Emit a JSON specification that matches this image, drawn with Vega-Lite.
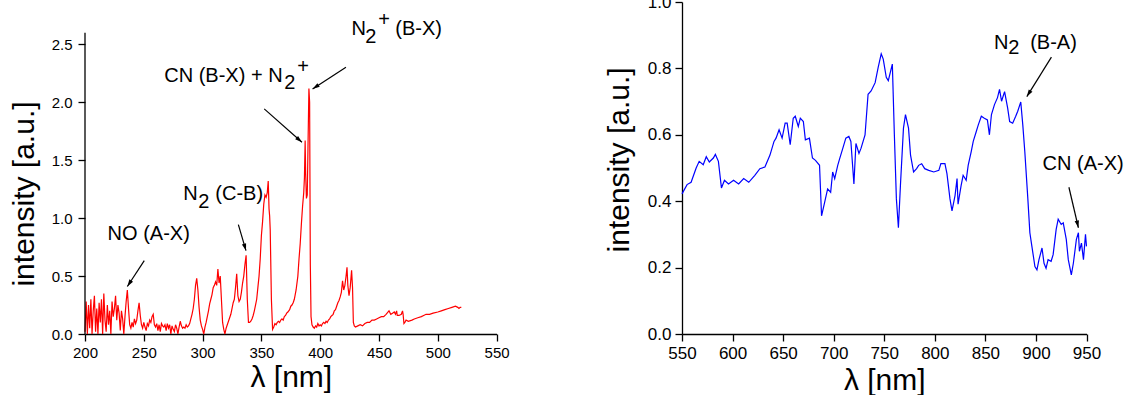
{
 "$schema": "https://vega.github.io/schema/vega-lite/v6.json",
 "background": "white",
 "padding": {"left": 9, "top": -7, "right": 0, "bottom": 0},
 "config": {
  "font": "Liberation Sans",
  "view": {"stroke": null},
  "axis": {"grid": false, "domainColor": "#000", "domainWidth": 1.3, "tickColor": "#000", "tickWidth": 1.3, "labelColor": "#000", "titleColor": "#000", "titleFontWeight": "normal", "titleFontSize": 30, "labelFlush": false, "labelOverlap": false, "labelFont": "Liberation Sans", "titleFont": "Liberation Sans"}
 },
 "datasets": {
  "red": [
   {"wl":200,"v":0.02},{"wl":201,"v":0.28},{"wl":202,"v":0.0},{"wl":203,"v":0.25},{"wl":204,"v":0.05},{"wl":205,"v":0.3},{"wl":206,"v":0.0},{"wl":207,"v":0.2},{"wl":208,"v":0.33},{"wl":209,"v":0.02},
   {"wl":210,"v":0.22},{"wl":211,"v":0.0},{"wl":212,"v":0.27},{"wl":213,"v":0.1},{"wl":214,"v":0.3},{"wl":215,"v":0.0},{"wl":216,"v":0.35},{"wl":217,"v":0.12},{"wl":218,"v":0.02},{"wl":219,"v":0.25},
   {"wl":220,"v":0.08},{"wl":221,"v":0.2},{"wl":222,"v":0.0},{"wl":223,"v":0.28},{"wl":224,"v":0.15},{"wl":225,"v":0.22},{"wl":226,"v":0.33},{"wl":227,"v":0.12},{"wl":228,"v":0.25},{"wl":229,"v":0.18},
   {"wl":230,"v":0.03},{"wl":231,"v":0.2},{"wl":232,"v":0.13},{"wl":233,"v":0.0},{"wl":234,"v":0.15},{"wl":235,"v":0.28},{"wl":236,"v":0.38},{"wl":237,"v":0.22},{"wl":238,"v":0.08},{"wl":239,"v":0.05},
   {"wl":240,"v":0.1},{"wl":241,"v":0.06},{"wl":242,"v":0.13},{"wl":243,"v":0.09},{"wl":244,"v":0.12},{"wl":245,"v":0.2},{"wl":246,"v":0.27},{"wl":247,"v":0.16},{"wl":248,"v":0.08},{"wl":249,"v":0.05},
   {"wl":250,"v":0.1},{"wl":251,"v":0.06},{"wl":252,"v":0.03},{"wl":253,"v":0.09},{"wl":254,"v":0.07},{"wl":255,"v":0.12},{"wl":256,"v":0.1},{"wl":257,"v":0.15},{"wl":258,"v":0.17},{"wl":259,"v":0.08},
   {"wl":260,"v":0.06},{"wl":261,"v":0.09},{"wl":262,"v":0.03},{"wl":263,"v":0.08},{"wl":264,"v":0.02},{"wl":265,"v":0.09},{"wl":266,"v":0.07},{"wl":267,"v":0.06},{"wl":268,"v":0.08},{"wl":269,"v":0.03},
   {"wl":270,"v":0.09},{"wl":271,"v":0.05},{"wl":272,"v":0.08},{"wl":273,"v":0.0},{"wl":274,"v":0.07},{"wl":275,"v":0.04},{"wl":276,"v":0.02},{"wl":277,"v":0.08},{"wl":278,"v":0.05},{"wl":279,"v":0.0},
   {"wl":280,"v":0.06},{"wl":281,"v":0.11},{"wl":282,"v":0.07},{"wl":283,"v":0.05},{"wl":284,"v":0.06},{"wl":285,"v":0.05},{"wl":286,"v":0.08},{"wl":287,"v":0.06},{"wl":288,"v":0.07},{"wl":289,"v":0.09},
   {"wl":290,"v":0.13},{"wl":291,"v":0.17},{"wl":292,"v":0.22},{"wl":293,"v":0.3},{"wl":294,"v":0.42},{"wl":295,"v":0.48},{"wl":296,"v":0.38},{"wl":297,"v":0.23},{"wl":298,"v":0.12},{"wl":299,"v":0.07},
   {"wl":300,"v":0.04},{"wl":301,"v":0.0},{"wl":302,"v":0.06},{"wl":303,"v":0.1},{"wl":304,"v":0.15},{"wl":305,"v":0.2},{"wl":306,"v":0.26},{"wl":307,"v":0.3},{"wl":308,"v":0.34},{"wl":309,"v":0.4},
   {"wl":310,"v":0.42},{"wl":311,"v":0.45},{"wl":312,"v":0.42},{"wl":313,"v":0.56},{"wl":314,"v":0.44},{"wl":315,"v":0.5},{"wl":316,"v":0.3},{"wl":317,"v":0.1},{"wl":318,"v":0.04},{"wl":319,"v":0.0},
   {"wl":320,"v":0.05},{"wl":321,"v":0.08},{"wl":322,"v":0.11},{"wl":323,"v":0.14},{"wl":324,"v":0.17},{"wl":325,"v":0.22},{"wl":326,"v":0.27},{"wl":327,"v":0.3},{"wl":328,"v":0.4},{"wl":329,"v":0.52},
   {"wl":330,"v":0.33},{"wl":331,"v":0.28},{"wl":332,"v":0.3},{"wl":333,"v":0.36},{"wl":334,"v":0.44},{"wl":335,"v":0.5},{"wl":336,"v":0.6},{"wl":337,"v":0.68},{"wl":338,"v":0.3},{"wl":339,"v":0.1},
   {"wl":340,"v":0.1},{"wl":341,"v":0.11},{"wl":342,"v":0.13},{"wl":343,"v":0.16},{"wl":344,"v":0.2},{"wl":345,"v":0.25},{"wl":346,"v":0.3},{"wl":347,"v":0.4},{"wl":348,"v":0.5},{"wl":349,"v":0.65},
   {"wl":350,"v":0.85},{"wl":351,"v":0.97},{"wl":352,"v":1.12},{"wl":353,"v":1.2},{"wl":354,"v":1.18},{"wl":355,"v":1.22},{"wl":355.8,"v":1.32},{"wl":356.5,"v":1.08},{"wl":357,"v":1.02},{"wl":357.5,"v":0.9},
   {"wl":358.5,"v":0.3},{"wl":359.5,"v":0.04},{"wl":360.5,"v":0.06},{"wl":361.5,"v":0.09},{"wl":362.5,"v":0.08},{"wl":363.5,"v":0.1},{"wl":364.5,"v":0.11},{"wl":365.5,"v":0.1},{"wl":366.5,"v":0.12},{"wl":367.5,"v":0.13},
   {"wl":368.5,"v":0.12},{"wl":369.5,"v":0.15},{"wl":370.5,"v":0.16},{"wl":371.5,"v":0.18},{"wl":372.5,"v":0.19},{"wl":374,"v":0.21},{"wl":375,"v":0.24},{"wl":376,"v":0.25},{"wl":377,"v":0.27},{"wl":378,"v":0.3},
   {"wl":379.5,"v":0.38},{"wl":381,"v":0.5},{"wl":382,"v":0.65},{"wl":383,"v":0.78},{"wl":384,"v":0.95},{"wl":385,"v":1.1},{"wl":386,"v":1.22},{"wl":386.6,"v":1.35},{"wl":387.2,"v":1.67},{"wl":387.6,"v":1.4},
   {"wl":388.3,"v":1.17},{"wl":389,"v":1.2},{"wl":389.6,"v":1.6},{"wl":390.4,"v":2.12},{"wl":391,"v":2.0},{"wl":391.6,"v":0.6},{"wl":392.2,"v":0.15},{"wl":393,"v":0.08},{"wl":394,"v":0.06},{"wl":395,"v":0.05},
   {"wl":396,"v":0.07},{"wl":397,"v":0.06},{"wl":398,"v":0.09},{"wl":399,"v":0.07},{"wl":400,"v":0.08},{"wl":401,"v":0.07},{"wl":402,"v":0.09},{"wl":403,"v":0.1},{"wl":404,"v":0.09},{"wl":405,"v":0.11},
   {"wl":406,"v":0.1},{"wl":407,"v":0.12},{"wl":408,"v":0.13},{"wl":409,"v":0.15},{"wl":410,"v":0.16},{"wl":411,"v":0.17},{"wl":412,"v":0.2},{"wl":413,"v":0.21},{"wl":414,"v":0.24},{"wl":415,"v":0.27},
   {"wl":416,"v":0.29},{"wl":417,"v":0.32},{"wl":418,"v":0.36},{"wl":419,"v":0.46},{"wl":420,"v":0.38},{"wl":421,"v":0.42},{"wl":422,"v":0.5},{"wl":422.8,"v":0.575},{"wl":423.5,"v":0.42},{"wl":424.5,"v":0.33},
   {"wl":425.5,"v":0.4},{"wl":426.7,"v":0.55},{"wl":427.5,"v":0.4},{"wl":428.2,"v":0.1},{"wl":429,"v":0.07},{"wl":430,"v":0.06},{"wl":432,"v":0.07},{"wl":434,"v":0.08},{"wl":436,"v":0.07},{"wl":438,"v":0.09},
   {"wl":440,"v":0.1},{"wl":442,"v":0.1},{"wl":444,"v":0.12},{"wl":446,"v":0.12},{"wl":448,"v":0.13},{"wl":450,"v":0.14},{"wl":452,"v":0.15},{"wl":454,"v":0.15},{"wl":456,"v":0.17},{"wl":458.5,"v":0.2},
   {"wl":460,"v":0.17},{"wl":461.5,"v":0.18},{"wl":463,"v":0.19},{"wl":464,"v":0.17},{"wl":465,"v":0.2},{"wl":465.5,"v":0.16},{"wl":467,"v":0.16},{"wl":469,"v":0.17},{"wl":470,"v":0.2},{"wl":470.5,"v":0.17},
   {"wl":471.2,"v":0.09},{"wl":472,"v":0.1},{"wl":473,"v":0.12},{"wl":475,"v":0.11},{"wl":478,"v":0.12},{"wl":480,"v":0.13},{"wl":483,"v":0.14},{"wl":486,"v":0.15},{"wl":488,"v":0.16},{"wl":490,"v":0.17},
   {"wl":493,"v":0.17},{"wl":496,"v":0.18},{"wl":500,"v":0.19},{"wl":503,"v":0.2},{"wl":506,"v":0.21},{"wl":509,"v":0.22},{"wl":512,"v":0.23},{"wl":515,"v":0.24},{"wl":517,"v":0.23},{"wl":518,"v":0.22},
   {"wl":519,"v":0.23},{"wl":520,"v":0.23}
  ],
  "blue": [
   {"wl":550,"v":0.422},{"wl":555,"v":0.45},{"wl":559,"v":0.457},{"wl":564,"v":0.5},{"wl":567,"v":0.52},{"wl":571,"v":0.51},{"wl":574,"v":0.534},{"wl":577,"v":0.518},{"wl":581,"v":0.53},{"wl":583,"v":0.541},
   {"wl":586,"v":0.52},{"wl":589,"v":0.44},{"wl":592,"v":0.463},{"wl":596,"v":0.452},{"wl":601,"v":0.463},{"wl":606,"v":0.452},{"wl":611,"v":0.468},{"wl":616,"v":0.457},{"wl":622,"v":0.478},{"wl":627,"v":0.498},
   {"wl":632,"v":0.503},{"wl":637,"v":0.539},{"wl":641,"v":0.58},{"wl":643,"v":0.59},{"wl":646,"v":0.615},{"wl":649,"v":0.59},{"wl":652,"v":0.635},{"wl":654,"v":0.635},{"wl":657,"v":0.57},{"wl":660,"v":0.65},
   {"wl":662,"v":0.656},{"wl":665,"v":0.625},{"wl":667,"v":0.65},{"wl":670,"v":0.64},{"wl":672,"v":0.585},{"wl":676,"v":0.59},{"wl":679,"v":0.53},{"wl":682,"v":0.523},{"wl":686,"v":0.508},{"wl":688,"v":0.356},
   {"wl":691,"v":0.396},{"wl":694,"v":0.437},{"wl":697,"v":0.427},{"wl":699,"v":0.488},{"wl":701,"v":0.468},{"wl":704,"v":0.508},{"wl":706,"v":0.529},{"wl":709,"v":0.559},{"wl":712,"v":0.59},{"wl":715,"v":0.595},
   {"wl":717,"v":0.58},{"wl":720,"v":0.452},{"wl":722,"v":0.574},{"wl":725,"v":0.544},{"wl":727,"v":0.559},{"wl":731,"v":0.6},{"wl":734,"v":0.722},{"wl":737,"v":0.732},{"wl":741,"v":0.757},{"wl":744,"v":0.803},
   {"wl":747,"v":0.844},{"wl":749,"v":0.828},{"wl":752,"v":0.773},{"wl":754,"v":0.763},{"wl":756,"v":0.788},{"wl":758,"v":0.813},{"wl":760,"v":0.6},{"wl":762,"v":0.407},{"wl":764,"v":0.32},{"wl":766,"v":0.447},
   {"wl":769,"v":0.62},{"wl":771,"v":0.661},{"wl":774,"v":0.62},{"wl":776,"v":0.539},{"wl":779,"v":0.488},{"wl":782,"v":0.498},{"wl":784,"v":0.508},{"wl":787,"v":0.513},{"wl":790,"v":0.498},{"wl":794,"v":0.493},
   {"wl":799,"v":0.488},{"wl":804,"v":0.493},{"wl":806,"v":0.513},{"wl":810,"v":0.513},{"wl":812,"v":0.483},{"wl":815,"v":0.407},{"wl":817,"v":0.371},{"wl":820,"v":0.417},{"wl":822,"v":0.468},{"wl":823,"v":0.391},
   {"wl":826,"v":0.447},{"wl":828,"v":0.478},{"wl":831,"v":0.463},{"wl":833,"v":0.508},{"wl":836,"v":0.549},{"wl":838,"v":0.58},{"wl":841,"v":0.61},{"wl":843,"v":0.63},{"wl":846,"v":0.656},{"wl":849,"v":0.65},
   {"wl":852,"v":0.645},{"wl":854,"v":0.6},{"wl":856,"v":0.661},{"wl":859,"v":0.691},{"wl":862,"v":0.712},{"wl":864,"v":0.737},{"wl":866,"v":0.701},{"wl":869,"v":0.73},{"wl":872,"v":0.681},{"wl":874,"v":0.64},
   {"wl":877,"v":0.635},{"wl":880,"v":0.656},{"wl":882,"v":0.671},{"wl":885,"v":0.699},{"wl":887,"v":0.63},{"wl":889,"v":0.549},{"wl":892,"v":0.407},{"wl":894,"v":0.305},{"wl":896,"v":0.264},{"wl":899,"v":0.203},
   {"wl":901,"v":0.193},{"wl":903,"v":0.224},{"wl":906,"v":0.259},{"wl":908,"v":0.213},{"wl":910,"v":0.198},{"wl":912,"v":0.224},{"wl":915,"v":0.219},{"wl":917,"v":0.239},{"wl":920,"v":0.315},{"wl":922,"v":0.346},
   {"wl":925,"v":0.33},{"wl":927,"v":0.335},{"wl":930,"v":0.285},{"wl":932,"v":0.224},{"wl":935,"v":0.178},{"wl":937,"v":0.213},{"wl":940,"v":0.285},{"wl":942,"v":0.305},{"wl":943,"v":0.249},{"wl":945,"v":0.274},
   {"wl":947,"v":0.224},{"wl":949,"v":0.3},{"wl":950,"v":0.264}
  ],
  "txtL": [
   {"x":219.2,"y":0.812,"t":"NO (A-X)"},
   {"x":283.6,"y":1.16,"t":"N"},{"x":296.3,"y":1.091,"t":"2"},{"x":310.8,"y":1.16,"t":"(C-B)"},
   {"x":267.4,"y":2.179,"t":"CN (B-X) + N"},{"x":369.5,"y":2.116,"t":"2"},{"x":380.4,"y":2.254,"t":"+"},
   {"x":426.7,"y":2.582,"t":"N"},{"x":438.4,"y":2.513,"t":"2"},{"x":449.4,"y":2.656,"t":"+"},{"x":463.9,"y":2.582,"t":"(B-X)"}
  ],
  "txtR": [
   {"x":858.6,"y":0.857,"t":"N"},{"x":872.6,"y":0.844,"t":"2"},{"x":894.3,"y":0.857,"t":"(B-A)"},
   {"x":906.6,"y":0.495,"t":"CN (A-X)"}
  ],
  "arrL": [
   {"x":250.4,"y":0.633,"x2":236.0,"y2":0.41},
   {"x":330.4,"y":0.944,"x2":336.9,"y2":0.72},
   {"x":352.4,"y":1.943,"x2":384.5,"y2":1.655},
   {"x":421.9,"y":2.302,"x2":393.5,"y2":2.116}
  ],
  "arrR": [
   {"x":915.3,"y":0.834,"x2":891.0,"y2":0.715},
   {"x":932.6,"y":0.442,"x2":942.0,"y2":0.32}
  ]
 },
 "bounds": "flush",
 "spacing": 185,
 "hconcat": [
  {
   "width": 411.6,
   "height": 332,
   "layer": [
    {
     "data": {"name": "red"},
     "mark": {"type": "line", "color": "#ff0000", "strokeWidth": 1.2},
     "encoding": {
      "x": {"field": "wl", "type": "quantitative", "scale": {"domain": [200, 550], "nice": false, "zero": false},
       "axis": {"title": "λ [nm]", "values": [200,225,250,275,300,325,350,375,400,425,450,475,500,525,550],
        "labelExpr": "datum.value % 50 ? '' : format(datum.value, 'd')",
        "tickSize": {"condition": {"test": "datum.value % 50 != 0", "value": 4}, "value": 7},
        "labelFontSize": 15, "labelPadding": 4, "titlePadding": 2}},
      "y": {"field": "v", "type": "quantitative", "scale": {"domain": [0, 2.866], "nice": false, "zero": false},
       "axis": {"title": "intensity [a.u.]", "domain": false, "values": [0,0.25,0.5,0.75,1,1.25,1.5,1.75,2,2.25,2.5],
        "labelExpr": "datum.value % 0.5 ? '' : format(datum.value, '.1f')",
        "tickSize": {"condition": {"test": "datum.value % 0.5 != 0", "value": 4}, "value": 7},
        "labelFontSize": 15, "labelPadding": 6, "titleY": 191.5, "titleX": -46}}
     }
    },
    {
     "data": {"values": [{}]},
     "mark": {"type": "rule", "color": "#000", "strokeWidth": 1.3},
     "encoding": {"x": {"datum": 200}, "y": {"datum": 0}, "y2": {"datum": 2.6}}
    },
    {
     "data": {"name": "arrL"},
     "mark": {"type": "rule", "color": "#000", "strokeWidth": 1.2},
     "encoding": {"x": {"field": "x", "type": "quantitative"}, "y": {"field": "y", "type": "quantitative"}, "x2": {"field": "x2"}, "y2": {"field": "y2"}}
    },
    {
     "data": {"name": "arrL"},
     "transform": [{"calculate": "atan2((datum.x2 - datum.x) * 1.176, (datum.y2 - datum.y) * 115.84) * 180 / PI", "as": "ang"}],
     "mark": {"type": "point", "shape": "M0,0L-0.4,1.3L0.4,1.3Z", "filled": true, "color": "#000", "size": 120, "opacity": 1},
     "encoding": {"x": {"field": "x2", "type": "quantitative"}, "y": {"field": "y2", "type": "quantitative"}, "angle": {"field": "ang", "type": "quantitative", "scale": null}}
    },
    {
     "data": {"name": "txtL"},
     "mark": {"type": "text", "align": "left", "baseline": "alphabetic", "fontSize": 20, "color": "#000", "font": "Liberation Sans"},
     "encoding": {"x": {"field": "x", "type": "quantitative"}, "y": {"field": "y", "type": "quantitative"}, "text": {"field": "t"}}
    }
   ]
  },
  {
   "width": 404.5,
   "height": 332,
   "layer": [
    {
     "data": {"name": "blue"},
     "mark": {"type": "line", "color": "#0000ff", "strokeWidth": 1.2},
     "encoding": {
      "x": {"field": "wl", "type": "quantitative", "scale": {"domain": [550, 950], "nice": false, "zero": false},
       "axis": {"title": "λ [nm]", "values": [550,575,600,625,650,675,700,725,750,775,800,825,850,875,900,925,950],
        "labelExpr": "datum.value % 50 ? '' : format(datum.value, 'd')",
        "tickSize": {"condition": {"test": "datum.value % 50 != 0", "value": 4}, "value": 7},
        "labelFontSize": 17, "labelPadding": 4, "titlePadding": 4}},
      "y": {"field": "v", "type": "quantitative", "scale": {"domain": [0, 1], "nice": false, "zero": false},
       "axis": {"title": "intensity [a.u.]", "values": [0,0.1,0.2,0.3,0.4,0.5,0.6,0.7,0.8,0.9,1],
        "labelExpr": "round(datum.value * 10) % 2 ? '' : format(datum.value, '.1f')",
        "tickSize": {"condition": {"test": "round(datum.value * 10) % 2 == 1", "value": 4}, "value": 7},
        "labelFontSize": 17, "labelPadding": 4, "titleY": 157.4, "titleX": -48}}
     }
    },
    {
     "data": {"name": "arrR"},
     "mark": {"type": "rule", "color": "#000", "strokeWidth": 1.2},
     "encoding": {"x": {"field": "x", "type": "quantitative"}, "y": {"field": "y", "type": "quantitative"}, "x2": {"field": "x2"}, "y2": {"field": "y2"}}
    },
    {
     "data": {"name": "arrR"},
     "transform": [{"calculate": "atan2((datum.x2 - datum.x) * 1.011, (datum.y2 - datum.y) * 332)* 180 / PI", "as": "ang"}],
     "mark": {"type": "point", "shape": "M0,0L-0.4,1.3L0.4,1.3Z", "filled": true, "color": "#000", "size": 120, "opacity": 1},
     "encoding": {"x": {"field": "x2", "type": "quantitative"}, "y": {"field": "y2", "type": "quantitative"}, "angle": {"field": "ang", "type": "quantitative", "scale": null}}
    },
    {
     "data": {"name": "txtR"},
     "mark": {"type": "text", "align": "left", "baseline": "alphabetic", "fontSize": 20, "color": "#000", "font": "Liberation Sans"},
     "encoding": {"x": {"field": "x", "type": "quantitative"}, "y": {"field": "y", "type": "quantitative"}, "text": {"field": "t"}}
    }
   ]
  }
 ]
}
